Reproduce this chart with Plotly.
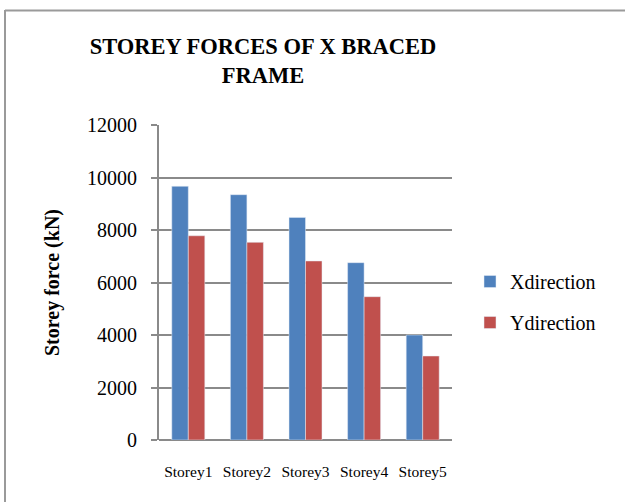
import plotly.graph_objects as go

storeys = ["Storey1", "Storey2", "Storey3", "Storey4", "Storey5"]
x_direction = [9665, 9345, 8480, 6755, 4000]
y_direction = [7780, 7530, 6820, 5460, 3200]
y_ticks = [0, 2000, 4000, 6000, 8000, 10000, 12000]
y_tick_text = [str(v) for v in y_ticks]

W, H = 625, 502
L, R, T, B = 159, 173, 125, 62
pw, ph = W - L - R, H - T - B


def px_x(x):
    return (x - L) / pw


def px_y(y):
    return (H - B - y) / ph


serif = "Liberation Serif, Times New Roman, serif"
grid = "#8a8a8a"

fig = go.Figure()
fig.add_trace(go.Bar(x=storeys, y=x_direction, name="Xdirection",
                     marker_color="#4F81BD", legendgroup="x"))
fig.add_trace(go.Bar(x=storeys, y=y_direction, name="Ydirection",
                     marker_color="#C0504D", legendgroup="y"))

fig.update_layout(
    width=W, height=H,
    margin=dict(l=L, r=R, t=T, b=B),
    paper_bgcolor="white", plot_bgcolor="white",
    font=dict(family=serif, color="black"),
    barmode="group", bargap=0.437, bargroupgap=0,
    title=dict(text="<b>STOREY FORCES OF X BRACED<br>FRAME</b>",
               x=263 / W, xanchor="center", y=1 - 54 / H, yanchor="top",
               font=dict(size=22.5, family=serif)),
    legend=dict(x=px_x(470), xanchor="left", y=px_y(302), yanchor="middle",
                font=dict(size=20), traceorder="grouped", tracegroupgap=12,
                bgcolor="rgba(0,0,0,0)"),
    xaxis=dict(showgrid=False, showline=False, ticks="",
               tickfont=dict(size=15.5), ticklabelstandoff=20),
    yaxis=dict(range=[0, 12000], tickvals=y_ticks, ticktext=y_tick_text,
               showgrid=True, gridcolor=grid, gridwidth=2, showline=True,
               linecolor=grid, linewidth=2, ticks="outside", ticklen=6,
               tickcolor=grid, tickwidth=2, tickfont=dict(size=20),
               ticklabelstandoff=10, zeroline=True, zerolinecolor=grid,
               zerolinewidth=2,
               title=dict(text="<b>Storey force (kN)</b>",
                          font=dict(size=20), standoff=22)),
    shapes=[
        dict(type="line", xref="paper", yref="paper",
             x0=px_x(5), x1=px_x(W), y0=px_y(10.5), y1=px_y(10.5),
             line=dict(color="#9a9a9a", width=2)),
        dict(type="line", xref="paper", yref="paper",
             x0=px_x(5), x1=px_x(5), y0=px_y(10), y1=px_y(H),
             line=dict(color="#9a9a9a", width=2)),
    ],
)

fig.write_html("out.html", config={"displayModeBar": False},
               post_script="document.body.style.margin='0';")
